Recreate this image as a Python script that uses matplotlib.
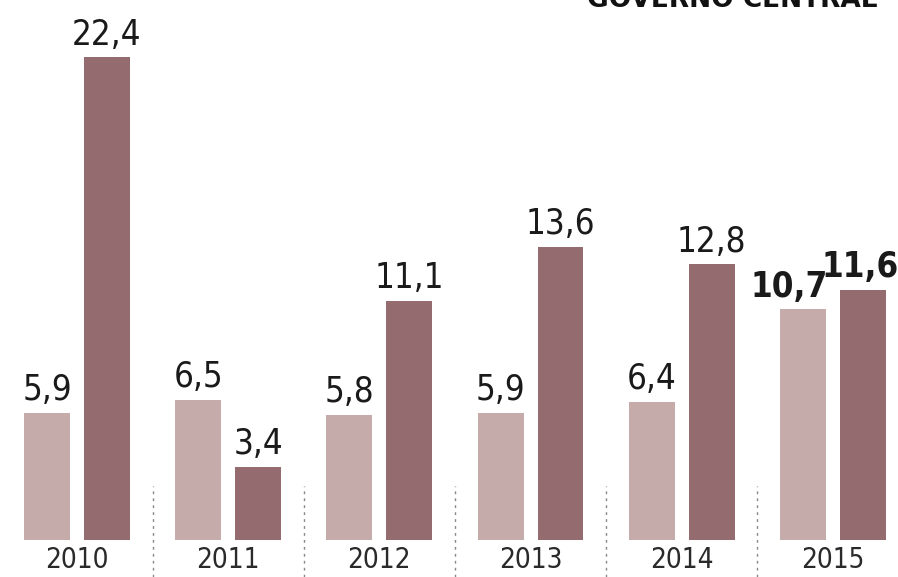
import numpy as np
import matplotlib.pyplot as plt

years = ['2010', '2011', '2012', '2013', '2014', '2015']
serie_a = [5.9, 6.5, 5.8, 5.9, 6.4, 10.7]
serie_b = [22.4, 3.4, 11.1, 13.6, 12.8, 11.6]

light = '#c5abaa'
dark = '#946b6f'

fig = plt.figure(figsize=(8.98, 5.77), dpi=100)
ax = fig.add_axes([0, 0, 1, 1])
ax.set_xlim(-0.509, 5.43)
ax.set_ylim(-1.716, 25.05)
ax.axis('off')

x = np.arange(len(years))
w, off = 0.304, 0.198
ax.bar(x - off, serie_a, w, color=light)
ax.bar(x + off, serie_b, w, color=dark)

for i, (a, b) in enumerate(zip(serie_a, serie_b)):
    last = i == len(years) - 1
    bold = 'bold' if last else 'normal'
    ax.annotate(f'{a:.1f}'.replace('.', ','), (x[i] - off, a),
                xytext=(-10 if last else 0, 4), textcoords='offset points',
                ha='center', va='bottom', fontsize=25, family='DejaVu Sans',
                stretch='condensed', weight=bold, color='#1a1a1a')
    ax.annotate(f'{b:.1f}'.replace('.', ','), (x[i] + off, b),
                xytext=(-2 if last else 0, 4), textcoords='offset points',
                ha='center', va='bottom', fontsize=25, family='DejaVu Sans',
                stretch='condensed', weight=bold, color='#1a1a1a')
    ax.text(x[i], -0.95, years[i], ha='center', va='center', fontsize=20,
            family='DejaVu Sans', stretch='condensed', color='#2a2a2a')

for i in range(len(years) - 1):
    ax.plot([x[i] + 0.5, x[i] + 0.5], [-1.716, 2.5], ls=(0, (2, 3)),
            color='#888888', lw=1)

fig.text(0.977, 1.0, 'GOVERNO CENTRAL', ha='right', va='center',
         fontsize=19, weight='bold', family='DejaVu Sans', color='#111111')

fig.savefig('out.png', dpi=100)
